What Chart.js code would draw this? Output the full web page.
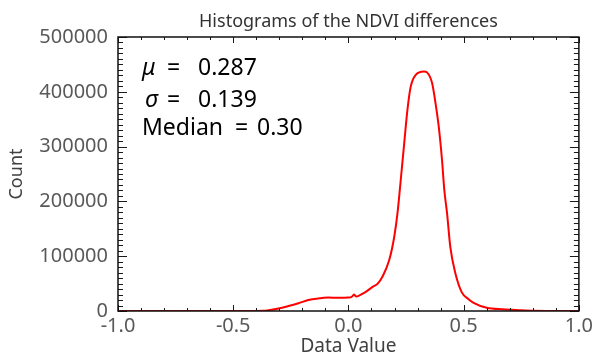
<!DOCTYPE html>
<html>
<head>
<meta charset="utf-8">
<script src="https://cdn.jsdelivr.net/npm/chart.js@4"></script>
<style>
  html, body { margin: 0; padding: 0; background: #ffffff; }
  #wrap { width: 596px; height: 361px; }
</style>
</head>
<body>
<div id="wrap"><canvas id="c" width="596" height="361"></canvas></div>
<script>
// ---- data ----
const dataValues = [-1.0, -0.6, -0.4, -0.37, -0.346, -0.303, -0.26, -0.217, -0.174, -0.131, -0.088, -0.045, 0.0, 0.015, 0.024, 0.034, 0.05, 0.07, 0.105, 0.127, 0.148, 0.177, 0.199, 0.213, 0.227, 0.242, 0.256, 0.27, 0.292, 0.328, 0.342, 0.363, 0.378, 0.392, 0.406, 0.416, 0.428, 0.442, 0.464, 0.492, 0.52, 0.543, 0.6, 0.672, 0.74, 0.8, 1.0];
const counts = [0, 0, 0, 300, 1500, 4500, 9000, 14000, 20000, 23000, 24500, 24000, 24500, 26000, 30000, 26500, 29000, 33500, 44000, 50000, 63000, 93000, 136000, 179000, 239000, 306000, 367000, 409000, 431000, 437000, 435000, 416000, 379000, 336000, 276000, 221000, 178000, 117000, 69000, 34000, 22000, 15000, 6000, 3000, 1500, 500, 0];
const xTickValues = [-1.0, -0.5, 0.0, 0.5, 1.0];
const yTickValues = [0, 100000, 200000, 300000, 400000, 500000];
const statSymbols = ['μ', 'σ', 'Median'];
const statValues = ['0.287', '0.139', '0.30'];
const titleText = 'Histograms of the NDVI differences';
const xTitle = 'Data Value';
const yTitle = 'Count';

const points = dataValues.map((v, i) => ({ x: v, y: counts[i] }));

const framePlugin = {
  id: 'frameTicks',
  afterDatasetsDraw(chart) {
    const { ctx, chartArea: a, scales } = chart;
    const xs = scales.x, ys = scales.y;
    ctx.save();
    ctx.strokeStyle = '#1a1a1a';
    ctx.lineWidth = 1;
    for (let k = -10; k <= 10; k++) {
      const v = k / 10;
      const px = Math.round(xs.getPixelForValue(v)) + 0.5;
      const len = (k % 5 === 0) ? 6 : 3;
      ctx.beginPath();
      ctx.moveTo(px, a.bottom); ctx.lineTo(px, a.bottom - len);
      ctx.moveTo(px, a.top); ctx.lineTo(px, a.top + len);
      ctx.stroke();
    }
    for (let k = 0; k <= 50; k++) {
      const v = k * 10000;
      const py = Math.round(ys.getPixelForValue(v)) + 0.5;
      const len = (k % 10 === 0) ? 9 : 5;
      ctx.beginPath();
      ctx.moveTo(a.left, py); ctx.lineTo(a.left + len, py);
      ctx.moveTo(a.right, py); ctx.lineTo(a.right - len, py);
      ctx.stroke();
    }
    ctx.lineWidth = 1.5;
    ctx.strokeStyle = '#111';
    ctx.strokeRect(a.left, a.top, a.right - a.left, a.bottom - a.top);
    ctx.restore();
  },
  afterDraw(chart) {
    const { ctx, chartArea: a } = chart;
    ctx.save();
    // title centred over the plot area
    ctx.fillStyle = '#333';
    ctx.textAlign = 'center';
    ctx.textBaseline = 'alphabetic';
    ctx.font = '18px "Noto Sans"';
    ctx.fillText(titleText, (a.left + a.right) / 2, 27);

    // statistics text
    ctx.fillStyle = '#000';
    ctx.textAlign = 'left';
    const fs = 23;
    const base = [38, 70, 98];
    ctx.font = 'italic ' + fs + 'px "Noto Sans"';
    ctx.fillText(statSymbols[0], a.left + 24, a.top + base[0]);
    ctx.fillText(statSymbols[1], a.left + 27, a.top + base[1]);
    ctx.font = fs + 'px "Noto Sans"';
    ctx.fillText('=', a.left + 49, a.top + base[0]);
    ctx.fillText('=', a.left + 49, a.top + base[1]);
    ctx.fillText(statValues[0], a.left + 80, a.top + base[0]);
    ctx.fillText(statValues[1], a.left + 80, a.top + base[1]);
    ctx.fillText(statSymbols[2], a.left + 24, a.top + base[2]);
    ctx.fillText('=', a.left + 117, a.top + base[2]);
    ctx.fillText(statValues[2], a.left + 139, a.top + base[2]);
    ctx.restore();
  }
};

new Chart(document.getElementById('c'), {
  type: 'line',
  data: {
    datasets: [{
      data: points,
      borderColor: '#ff0000',
      borderWidth: 2,
      pointRadius: 0,
      fill: false,
      cubicInterpolationMode: 'monotone'
    }]
  },
  options: {
    responsive: false,
    animation: false,
    devicePixelRatio: 1,
    layout: { padding: { left: 0, right: 13, top: 37, bottom: 0 } },
    plugins: {
      legend: { display: false },
      tooltip: { enabled: false },
      title: { display: false }
    },
    scales: {
      x: {
        type: 'linear',
        min: -1, max: 1,
        afterBuildTicks(scale) { scale.ticks = xTickValues.map(v => ({ value: v })); },
        afterFit(scale) { scale.height = 50; },
        grid: { display: false, drawTicks: false },
        border: { display: false },
        ticks: {
          color: '#595959',
          padding: 3,
          font: { family: '"Noto Sans"', size: 20 },
          callback: (v) => Number(v).toFixed(1),
          maxRotation: 0
        },
        title: {
          display: true, text: xTitle, color: '#404040',
          font: { family: '"Noto Sans"', size: 19 },
          padding: { top: 0, bottom: 3 }
        }
      },
      y: {
        type: 'linear',
        min: 0, max: 500000,
        afterBuildTicks(scale) { scale.ticks = yTickValues.map(v => ({ value: v })); },
        afterFit(scale) { scale.width = 118; },
        grid: { display: false, drawTicks: false },
        border: { display: false },
        ticks: {
          color: '#595959',
          padding: 10,
          font: { family: '"Noto Sans"', size: 20 },
          callback: (v) => String(v)
        },
        title: {
          display: true, text: yTitle, color: '#404040',
          font: { family: '"Noto Sans"', size: 18 },
          padding: { top: 6, bottom: 0 }
        }
      }
    }
  },
  plugins: [framePlugin]
});
</script>
</body>
</html>
